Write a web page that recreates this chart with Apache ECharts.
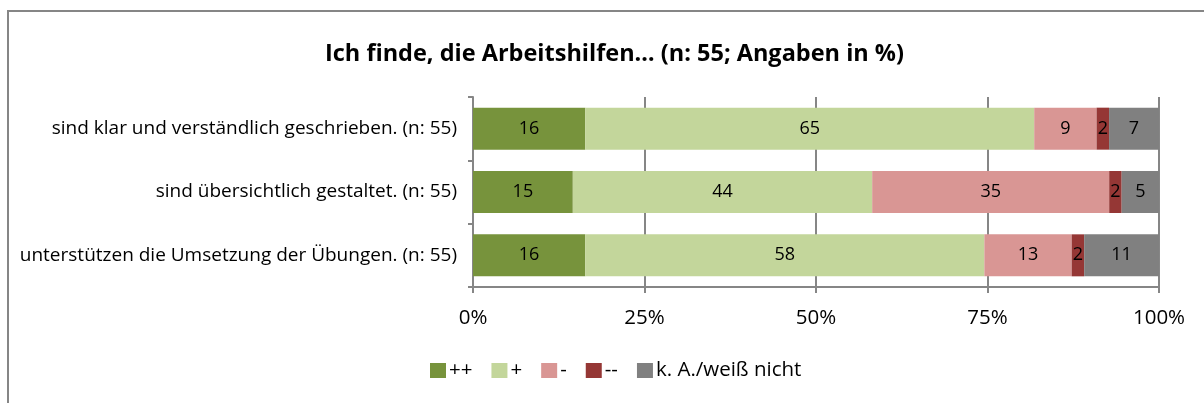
<!DOCTYPE html>
<html>
<head>
<meta charset="utf-8">
<script src="https://cdn.jsdelivr.net/npm/echarts@6/dist/echarts.min.js"></script>
<style>
  html, body { margin: 0; padding: 0; background: #fff; }
  #chart { width: 1204px; height: 403px; }
</style>
</head>
<body>
<div id="chart"></div>
<script>
// statements, top to bottom
const categories = [
  'sind klar und verständlich geschrieben. (n: 55)',
  'sind übersichtlich gestaltet. (n: 55)',
  'unterstützen die Umsetzung der Übungen. (n: 55)'
]
const seriesNames = ['++', '+', '-', '--', 'k. A./weiß nicht']
// shares in %, per answer, one value per statement
const valPlusPlus = [16.36, 14.55, 16.36]
const valPlus = [65.45, 43.64, 58.18]
const valMinus = [9.09, 34.55, 12.73]
const valMinusMinus = [1.82, 1.82, 1.82]
const valNoAnswer = [7.27, 5.45, 10.91]
const xTicks = [0, 25, 50, 75, 100]

const colors = ['#77933C', '#C3D69B', '#D99694', '#953735', '#808080']
const font = 'Open Sans'

let myChart = echarts.init(document.getElementById('chart'))

const allValues = [valPlusPlus, valPlus, valMinus, valMinusMinus, valNoAnswer]
const series = allValues.map((vals, i) => ({
  name: seriesNames[i],
  type: 'bar',
  stack: 'total',
  barWidth: 42,
  data: vals,
  itemStyle: { color: colors[i] },
  label: {
    show: true,
    position: 'inside',
    color: '#000',
    fontFamily: font,
    fontSize: 18,
    formatter: p => Math.round(p.value)
  },
  emphasis: { disabled: true }
}))

myChart.setOption({
  animation: false,
  color: colors,
  textStyle: { fontFamily: font },
  graphic: [{
    type: 'rect',
    shape: { x: 8, y: 11, width: 1300, height: 500 },
    style: { fill: 'none', stroke: '#868686', lineWidth: 2 },
    silent: true
  }],
  title: {
    text: 'Ich finde, die Arbeitshilfen… (n: 55; Angaben in %)',
    left: 320,
    top: 37,
    textStyle: { color: '#000', fontSize: 23.5, fontWeight: 'bold', fontFamily: font }
  },
  legend: {
    bottom: 17,
    left: 425,
    itemWidth: 16,
    itemHeight: 15,
    itemGap: 19,
    icon: 'rect',
    data: seriesNames,
    textStyle: { color: '#000', fontSize: 20.5, fontFamily: font, padding: [0, 0, 0, -2] },
    selectedMode: false
  },
  grid: { left: 473, right: 45, top: 97, bottom: 116 },
  xAxis: {
    type: 'value',
    min: 0,
    max: 100,
    interval: 25,
    axisLine: { show: true, lineStyle: { color: '#868686', width: 2 } },
    axisTick: { show: true, length: 6, lineStyle: { color: '#868686', width: 2 } },
    splitLine: { show: true, lineStyle: { color: '#868686', width: 2 } },
    axisLabel: {
      color: '#000', fontSize: 20.5, fontFamily: font, margin: 21,
      formatter: v => xTicks.includes(v) ? v + '%' : ''
    }
  },
  yAxis: {
    type: 'category',
    inverse: true,
    data: categories,
    axisLine: { show: true, lineStyle: { color: '#868686', width: 2 } },
    axisTick: { show: true, length: 5, lineStyle: { color: '#868686', width: 2 } },
    axisLabel: { color: '#000', fontSize: 19, fontFamily: font, margin: 16 }
  },
  series: series
})
</script>
</body>
</html>
